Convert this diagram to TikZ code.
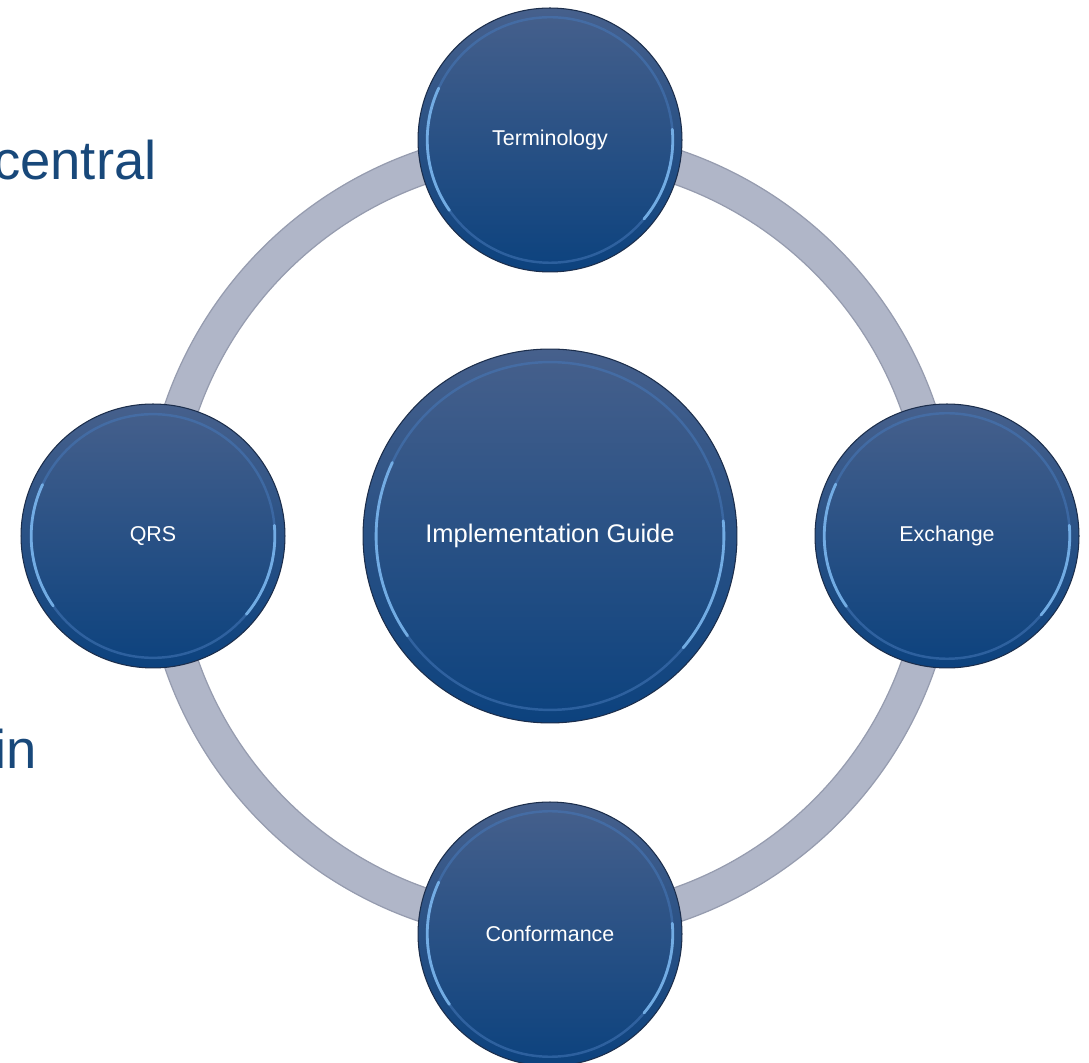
\documentclass[tikz,border=0pt]{standalone}
\usepackage{fontspec}
\setmainfont{Liberation Sans}
\definecolor{ringfill}{RGB}{176,182,200}
\definecolor{ringedge}{RGB}{150,156,175}
\definecolor{bubtop}{RGB}{70,96,140}
\definecolor{bubmid}{RGB}{34,82,138}
\definecolor{bubbot}{RGB}{12,66,126}
\definecolor{bubedge}{RGB}{28,46,76}
\definecolor{rimcol}{RGB}{70,120,185}
\definecolor{glintcol}{RGB}{125,185,240}
\definecolor{slidetext}{RGB}{24,72,122}
\begin{document}
\begin{tikzpicture}[x=0.02cm,y=0.02cm,
  bub/.style={circle, draw=bubedge, line width=0.6pt, top color=bubtop, middle color=bubmid, bottom color=bubbot, text=white, inner sep=0pt},
  small/.style={bub, minimum size=5.28cm, font=\fontsize{12.2}{14}\selectfont},
  big/.style={bub, minimum size=7.48cm, font=\fontsize{14.5}{17}\selectfont},
  rimline/.style={draw=rimcol, line width=1.4pt, opacity=0.55},
  glint/.style={draw=glintcol, line width=1.6pt, opacity=0.85, line cap=round},
  slide/.style={text=slidetext, font=\fontsize{31}{36}\selectfont, inner sep=0pt}]
\useasboundingbox (0,0) rectangle (1089,1062);
% partial slide text behind
\node[slide, anchor=base east] (txtA) at (157,882) {central};
\node[slide, anchor=base east] (txtB) at (37,293) {in};
% ring
\coordinate (o) at (550,526);
\draw[line width=0.68cm, ringfill] (o) circle[radius=390];
\draw[ringedge, line width=0.7pt] (o) circle[radius=407];
\draw[ringedge, line width=0.7pt] (o) circle[radius=373];
% bubbles
\node[big] (c) at (550,526) {Implementation Guide};
\node[small] (t) at (550,922) {Terminology};
\node[small] (l) at (153,526) {QRS};
\node[small] (r) at (947,526) {Exchange};
\node[small] (b) at (550,128) {Conformance};
% bevel effects
\foreach \n/\rr in {c/187,t/132,l/131,r/132,b/132}{
  \draw[rimline] (\n.center) circle[radius={0.93*\rr}];
  \draw[glint] ([shift={(155:{0.93*\rr})}]\n.center) arc[start angle=155,end angle=215,radius={0.93*\rr}];
  \draw[glint] ([shift={(-40:{0.93*\rr})}]\n.center) arc[start angle=-40,end angle=5,radius={0.93*\rr}];
}
\end{tikzpicture}
\end{document}
